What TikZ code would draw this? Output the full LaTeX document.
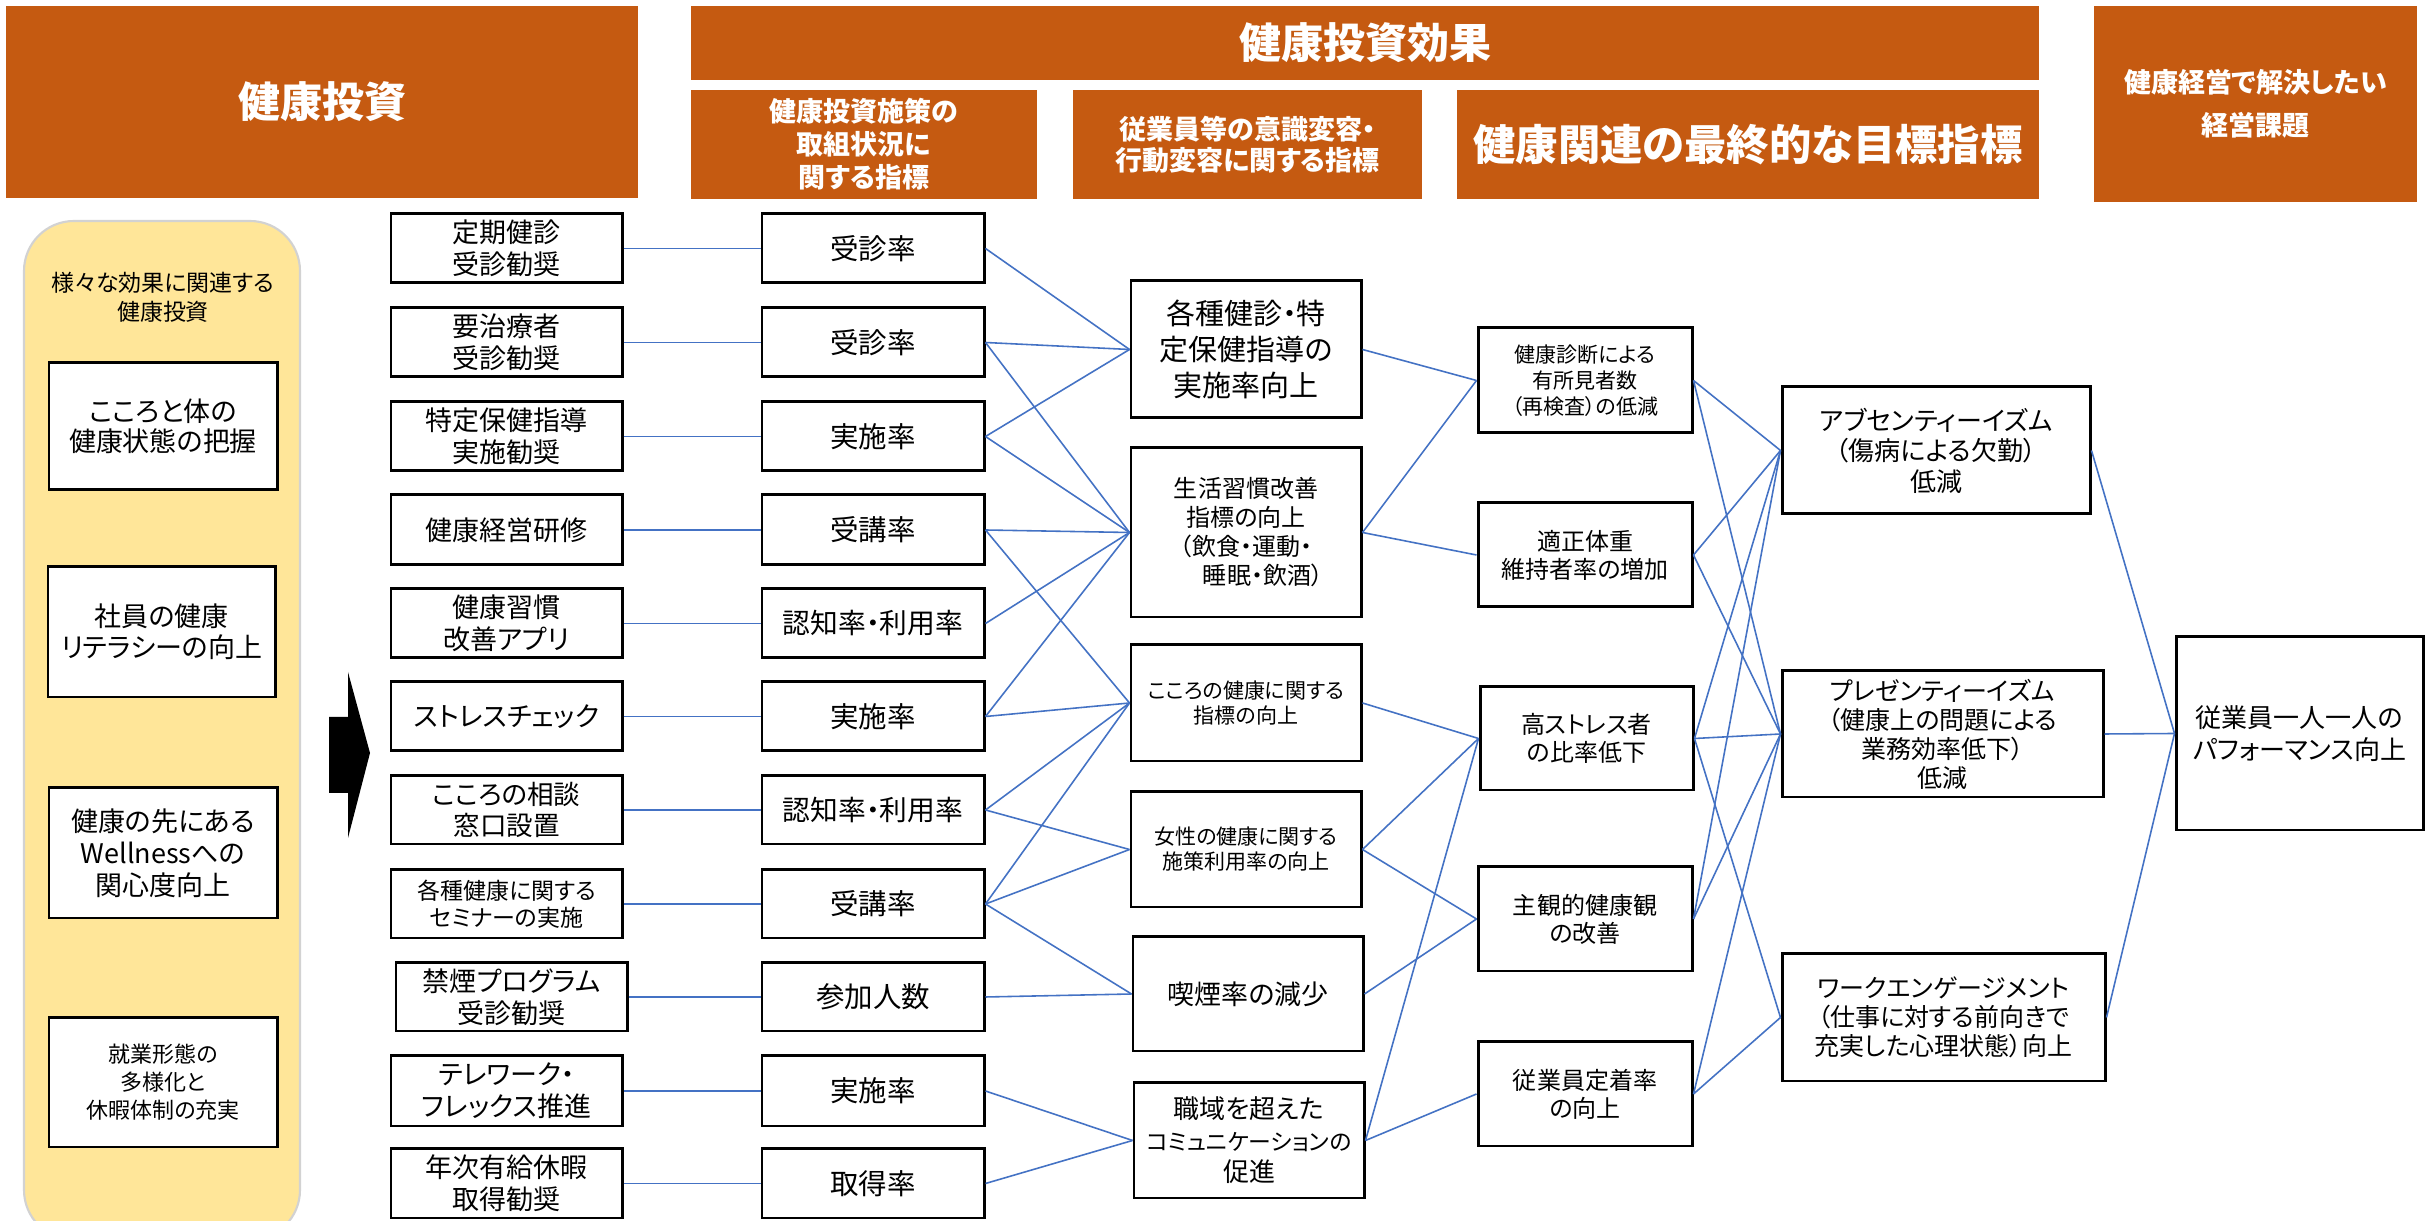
\documentclass[tikz,border=0pt]{standalone}
\usepackage{fontspec}
\setmainfont{Noto Sans CJK JP}[RawFeature={+palt}]
\definecolor{hdr}{RGB}{197,90,17}
\definecolor{lnk}{RGB}{68,114,196}
\definecolor{ylw}{RGB}{255,230,153}
\definecolor{ygr}{RGB}{210,210,210}
\newcommand\jf[2]{\fontsize{#1}{#2}\selectfont}
\newcommand\bxn[7][]{%
  \pgfmathsetmacro\bxcx{(#3+#5)/2}%
  \pgfmathsetmacro\bxcy{(#4+#6)/2}%
  \pgfmathsetmacro\bxw{(#5-#3)*0.1}%
  \pgfmathsetmacro\bxh{(#6-#4)*0.1}%
  \node[#1, minimum width=\bxw mm, minimum height=\bxh mm] (#2) at (\bxcx,\bxcy) {#7};}
\tikzset{
  bx/.style={draw=black, line width=0.85pt, fill=white, inner sep=0pt, align=center, text=black},
  hd/.style={fill=hdr, inner sep=0pt, align=center, text=white},
  lk/.style={draw=lnk, line width=0.45pt},
}
\begin{document}
\begin{tikzpicture}[x=0.1mm,y=-0.1mm]
\useasboundingbox (0,0) rectangle (2433,1221);
\fill[white] (0,0) rectangle (2433,1221);

% ---------- headers ----------
\bxn[hd,font={\bfseries\jf{11.95}{14}}]{h1}{6}{6}{638}{198}{健康投資}
\bxn[hd,font={\bfseries\jf{11.95}{14}}]{h2}{691}{6}{2039}{80}{健康投資効果}
\bxn[hd,font={\bfseries\jf{7.68}{9.39}}]{h3}{691}{90}{1037}{199}{健康投資施策の\\取組状況に\\関する指標}
\bxn[hd,font={\bfseries\jf{7.68}{8.82}}]{h4}{1073}{90}{1422}{199}{従業員等の意識変容・\\行動変容に関する指標}
\bxn[hd,font={\bfseries\jf{12.05}{15}}]{h5}{1457}{90}{2039}{199}{健康関連の最終的な目標指標}
\bxn[hd,font={\bfseries\jf{7.68}{12.23}}]{h6}{2094}{6}{2417}{202}{健康経営で解決したい\\経営課題}

% ---------- yellow panel ----------
\draw[fill=ylw, draw=ygr, line width=0.6pt, rounded corners=5mm] (24,221) rectangle (300,1240);
\node[font=\jf{6.54}{8.25}, align=center] (ytitle) at (163,297) {様々な効果に関連する\\健康投資};
\bxn[bx,font=\jf{7.68}{8.54}]{p1}{49}{363}{277}{490}{こころと体の\\健康状態の把握}
\bxn[bx,font=\jf{7.68}{8.82}]{p2}{48}{567}{275}{697}{社員の健康\\リテラシーの向上}
\bxn[bx,font=\jf{7.68}{9.10}]{p3}{49}{788}{277}{918}{健康の先にある\\Wellnessへの\\関心度向上}
\bxn[bx,font=\jf{6.26}{7.97}]{p4}{49}{1018}{277}{1147}{就業形態の\\多様化と\\休暇体制の充実}

% ---------- big arrow ----------
\fill[black] (329,717) -- (348,717) -- (348,672) -- (370,753) -- (348,838) -- (348,793) -- (329,793) -- cycle;

% ---------- column 2 : measures ----------
\bxn[bx,font=\jf{7.68}{9.10}]{a1}{391}{214}{622}{283}{定期健診\\受診勧奨}
\bxn[bx,font=\jf{7.68}{9.10}]{a2}{391}{308}{622}{377}{要治療者\\受診勧奨}
\bxn[bx,font=\jf{7.68}{9.10}]{a3}{391}{402}{622}{471}{特定保健指導\\実施勧奨}
\bxn[bx,font=\jf{7.68}{9.10}]{a4}{391}{495}{622}{565}{健康経営研修}
\bxn[bx,font=\jf{7.68}{9.10}]{a5}{391}{589}{622}{658}{健康習慣\\改善アプリ}
\bxn[bx,font=\jf{7.68}{9.10}]{a6}{391}{682}{622}{751}{ストレスチェック}
\bxn[bx,font=\jf{7.54}{8.82}]{a7}{391}{776}{622}{844}{こころの相談\\窓口設置}
\bxn[bx,font=\jf{6.54}{7.82}]{a8}{391}{870}{622}{938}{各種健康に関する\\セミナーの実施}
\bxn[bx,font=\jf{7.68}{9.10}]{a9}{396}{963}{627}{1031}{禁煙プログラム\\受診勧奨}
\bxn[bx,font=\jf{7.68}{9.10}]{a10}{391}{1056}{622}{1126}{テレワーク・\\フレックス推進}
\bxn[bx,font=\jf{7.68}{9.10}]{a11}{391}{1149}{622}{1218}{年次有給休暇\\取得勧奨}

% ---------- column 3 : indicators ----------
\bxn[bx,font=\jf{8.1}{9.5}]{b1}{762}{214}{984}{283}{受診率}
\bxn[bx,font=\jf{8.1}{9.5}]{b2}{762}{308}{984}{377}{受診率}
\bxn[bx,font=\jf{8.1}{9.5}]{b3}{762}{402}{984}{471}{実施率}
\bxn[bx,font=\jf{8.1}{9.5}]{b4}{762}{495}{984}{565}{受講率}
\bxn[bx,font=\jf{7.9}{9.5}]{b5}{762}{589}{984}{658}{認知率・利用率}
\bxn[bx,font=\jf{8.1}{9.5}]{b6}{762}{682}{984}{751}{実施率}
\bxn[bx,font=\jf{7.9}{9.5}]{b7}{762}{776}{984}{844}{認知率・利用率}
\bxn[bx,font=\jf{8.1}{9.5}]{b8}{762}{870}{984}{938}{受講率}
\bxn[bx,font=\jf{8.1}{9.5}]{b9}{762}{963}{984}{1031}{参加人数}
\bxn[bx,font=\jf{8.1}{9.5}]{b10}{762}{1056}{984}{1126}{実施率}
\bxn[bx,font=\jf{8.1}{9.5}]{b11}{762}{1149}{984}{1218}{取得率}

% ---------- column 4 : behaviour change ----------
\bxn[bx,font=\jf{8.25}{10.24}]{c1}{1131}{281}{1361}{418}{各種健診・特\\定保健指導の\\実施率向上}
\bxn[bx,font=\jf{6.83}{8.25}]{c2}{1131}{448}{1361}{617}{生活習慣改善\\指標の向上\\（飲食・運動・\\\hspace*{3.4mm}睡眠・飲酒）}
\bxn[bx,font=\jf{5.98}{7.11}]{c3}{1131}{645}{1361}{761}{こころの健康に関する\\指標の向上}
\bxn[bx,font=\jf{5.98}{7.11}]{c4}{1131}{792}{1361}{907}{女性の健康に関する\\施策利用率の向上}
\bxn[bx,font=\jf{7.68}{9.1}]{c5}{1133}{937}{1363}{1051}{喫煙率の減少}
\bxn[bx,font=\jf{7.40}{8.96}]{c6}{1134}{1083}{1364}{1198}{職域を超えた\\{\jf{6.5}{8.96}コミュニケーションの}\\促進}

% ---------- column 5 : final health indicators ----------
\bxn[bx,font=\jf{5.98}{7.40}]{d1}{1478}{328}{1692}{433}{健康診断による\\有所見者数\\（再検査）の低減}
\bxn[bx,font=\jf{6.83}{7.97}]{d2}{1478}{503}{1692}{607}{適正体重\\維持者率の増加}
\bxn[bx,font=\jf{6.83}{7.97}]{d3}{1480}{687}{1693}{790}{高ストレス者\\の比率低下}
\bxn[bx,font=\jf{6.83}{7.97}]{d4}{1478}{867}{1692}{971}{主観的健康観\\の改善}
\bxn[bx,font=\jf{6.83}{7.97}]{d5}{1478}{1042}{1692}{1146}{従業員定着率\\の向上}

% ---------- column 6 ----------
\bxn[bx,font=\jf{7.40}{8.68}]{e1}{1782}{387}{2090}{514}{アブセンティーイズム\\（傷病による欠勤）\\低減}
\bxn[bx,font=\jf{7.11}{8.25}]{e2}{1782}{671}{2103}{797}{プレゼンティーイズム\\（健康上の問題による\\業務効率低下）\\低減}
\bxn[bx,font=\jf{7.11}{8.25}]{e3}{1782}{954}{2105}{1081}{ワークエンゲージメント\\（仕事に対する前向きで\\充実した心理状態）向上}

% ---------- column 7 ----------
\bxn[bx,font=\jf{7.40}{9.10}]{fo}{2176}{637}{2423}{830}{従業員一人一人の\\パフォーマンス向上}

% ---------- connectors ----------
\foreach \i in {1,...,11} \draw[lk] (a\i.east) -- (b\i.west);

\foreach \s/\t in {b1/c1,b2/c1,b2/c2,b3/c1,b3/c2,b4/c2,b4/c3,b5/c2,b6/c2,b6/c3,
                   b7/c3,b7/c4,b8/c3,b8/c4,b8/c5,b9/c5,b10/c6,b11/c6}
  \draw[lk] (\s.east) -- (\t.west);

\foreach \s/\t in {c1/d1,c2/d1,c2/d2,c3/d3,c4/d3,c4/d4,c5/d4,c6/d3,c6/d5}
  \draw[lk] (\s.east) -- (\t.west);

\foreach \s/\t in {d1/e1,d1/e2,d2/e1,d2/e2,d3/e1,d3/e2,d3/e3,d4/e1,d4/e2,d5/e2,d5/e3}
  \draw[lk] (\s.east) -- (\t.west);

\foreach \s in {e1,e2,e3}
  \draw[lk] (\s.east) -- (fo.west);
\end{tikzpicture}
\end{document}
